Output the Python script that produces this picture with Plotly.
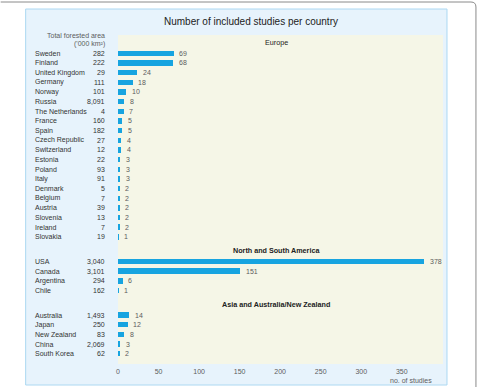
import plotly.graph_objects as go

# ---------------- data ----------------
europe_countries = ["Sweden", "Finland", "United Kingdom", "Germany", "Norway", "Russia",
                    "The Netherlands", "France", "Spain", "Czech Republic", "Switzerland",
                    "Estonia", "Poland", "Italy", "Denmark", "Belgium", "Austria",
                    "Slovenia", "Ireland", "Slovakia"]
europe_forest = ["282", "222", "29", "111", "101", "8,091", "4", "160", "182", "27", "12",
                 "22", "93", "91", "5", "7", "39", "13", "7", "19"]
europe_studies = [69, 68, 24, 18, 10, 8, 7, 5, 5, 4, 4, 3, 3, 3, 2, 2, 2, 2, 2, 1]

america_countries = ["USA", "Canada", "Argentina", "Chile"]
america_forest = ["3,040", "3,101", "294", "162"]
america_studies = [378, 151, 6, 1]

asia_countries = ["Australia", "Japan", "New Zealand", "China", "South Korea"]
asia_forest = ["1,493", "250", "83", "2,069", "62"]
asia_studies = [14, 12, 8, 3, 2]

group_names = ["Europe", "North and South America", "Asia and Australia/New Zealand"]
x_ticks = [0, 50, 100, 150, 200, 250, 300, 350]

groups = [
    (group_names[0], europe_countries, europe_forest, europe_studies),
    (group_names[1], america_countries, america_forest, america_studies),
    (group_names[2], asia_countries, asia_forest, asia_studies),
]

# ---------------- layout helpers ----------------
W, H = 477, 387
PL, PR, PT, PB = 117.5, 443.0, 35.0, 364.0   # plot area in pixels


def px_x(x):
    return (x - PL) / (PR - PL)


def px_y(y):
    return (PB - y) / (PB - PT)


HEADER_GAP = 1.45
FIRST_GAP = 1.1

pos = 0.0
header_pos = []
ys, names, forests, values = [], [], [], []
for gi, (gname, cs, fs, vs) in enumerate(groups):
    if gi > 0:
        pos += HEADER_GAP
    header_pos.append(pos)
    pos += FIRST_GAP
    for k, (c, f, v) in enumerate(zip(cs, fs, vs)):
        if k > 0:
            pos += 1.0
        ys.append(pos)
        names.append(c)
        forests.append(f)
        values.append(v)

unit_px = 9.66
top_u = ys[0] - (53.3 - PT) / unit_px
bot_u = ys[0] + (PB - 53.3) / unit_px

FONT = "Liberation Sans, Arial, sans-serif"
BAR = "#17a4e0"
TXT = "#333333"
GREY = "#5c5c5c"
FS = 7

fig = go.Figure()
fig.add_trace(go.Bar(
    x=values, y=ys, orientation="h",
    marker=dict(color=BAR, line=dict(width=0)),
    width=0.56,
    hoverinfo="skip", showlegend=False,
))

annotations = []
# value labels next to bars
for y, v in zip(ys, values):
    annotations.append(dict(x=v, y=y, xref="x", yref="y", text=str(v), showarrow=False,
                            xanchor="left", yanchor="middle", xshift=3.5,
                            font=dict(family=FONT, size=FS, color=GREY)))
# title
annotations.append(dict(x=px_x(251), y=px_y(21.5), xref="paper", yref="paper",
                        text="Number of included studies per country", showarrow=False,
                        font=dict(family=FONT, size=10, color="#222222"),
                        xanchor="center", yanchor="middle"))
# forested-area header
annotations.append(dict(x=px_x(106), y=px_y(35), xref="paper", yref="paper",
                        text="Total forested area", showarrow=False,
                        font=dict(family=FONT, size=FS, color=GREY),
                        xanchor="right", yanchor="middle"))
annotations.append(dict(x=px_x(106), y=px_y(44), xref="paper", yref="paper",
                        text="('000 km²)", showarrow=False,
                        font=dict(family=FONT, size=FS, color=GREY),
                        xanchor="right", yanchor="middle"))
# group headers
for gi, (hp, gname) in enumerate(zip(header_pos, group_names)):
    annotations.append(dict(x=px_x(276), y=hp, xref="paper", yref="y",
                            text=gname if gi == 0 else "<b>" + gname + "</b>",
                            showarrow=False,
                            font=dict(family=FONT, size=7.2, color="#222222"),
                            xanchor="center", yanchor="middle"))
# country names and forested area
for y, n, f in zip(ys, names, forests):
    annotations.append(dict(x=px_x(32), y=y, xref="paper", yref="y", text=n,
                            showarrow=False, font=dict(family=FONT, size=FS, color=TXT),
                            xanchor="left", yanchor="middle"))
    annotations.append(dict(x=px_x(106), y=y, xref="paper", yref="y", text=f,
                            showarrow=False, font=dict(family=FONT, size=FS, color=TXT),
                            xanchor="right", yanchor="middle"))
# axis title
annotations.append(dict(x=px_x(411), y=px_y(380.5), xref="paper", yref="paper",
                        text="no. of studies", showarrow=False,
                        font=dict(family=FONT, size=FS, color=GREY),
                        xanchor="center", yanchor="middle"))

shapes = [
    dict(type="path", xref="paper", yref="paper", layer="below",
         path=(f"M {px_x(0)},{px_y(2)} L {px_x(471)},{px_y(2)} "
               f"Q {px_x(476)},{px_y(2)} {px_x(476)},{px_y(7)} L {px_x(476)},{px_y(390)}"),
         line=dict(color="#8a8a8a", width=1)),
    dict(type="rect", xref="paper", yref="paper", layer="below",
         x0=px_x(25), x1=px_x(447), y0=px_y(385), y1=px_y(9),
         fillcolor="#e7f3fc", line=dict(color="#acd8f2", width=1)),
    dict(type="rect", xref="paper", yref="paper", layer="below",
         x0=0, x1=1, y0=0, y1=1,
         fillcolor="#f5f6e7", line=dict(width=0)),
]

fig.update_layout(
    width=W, height=H,
    margin=dict(l=PL, r=W - PR, t=PT, b=H - PB, pad=0),
    paper_bgcolor="white", plot_bgcolor="rgba(0,0,0,0)",
    bargap=0,
    xaxis=dict(range=[0, (PR - PL) / 0.812], tickvals=x_ticks, showgrid=False,
               zeroline=False, showline=False, ticks="",
               tickfont=dict(family=FONT, size=FS, color=GREY), ticklabelstandoff=2),
    yaxis=dict(range=[bot_u, top_u], showticklabels=False, showgrid=False,
               zeroline=False, showline=False, ticks=""),
    annotations=annotations, shapes=shapes,
    font=dict(family=FONT),
)

fig.write_html("out.html")
